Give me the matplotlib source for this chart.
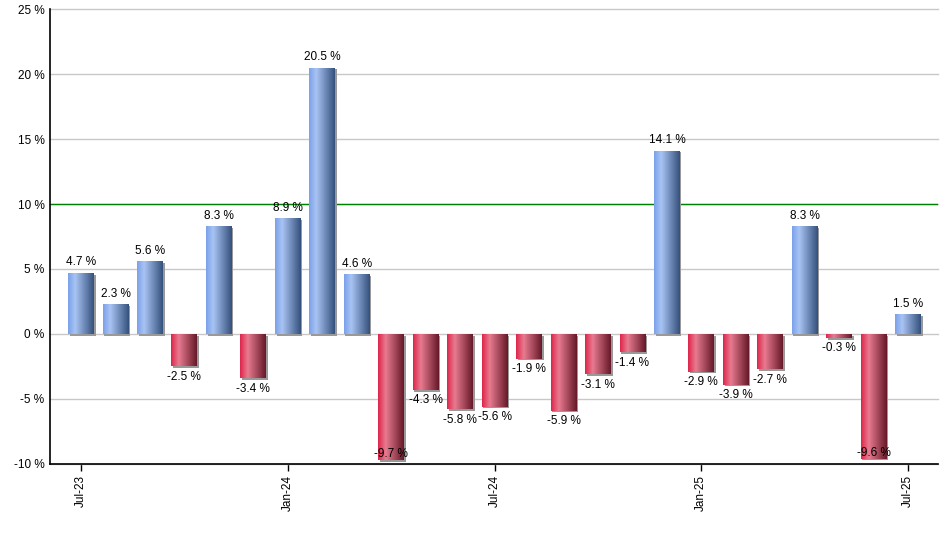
"""Monthly returns bar chart with gradient bars."""

import matplotlib

matplotlib.use("Agg")
import matplotlib.pyplot as plt
import matplotlib.patheffects as pe
import numpy as np
from matplotlib.colors import LinearSegmentedColormap

months = ["Jul-23", "Aug-23", "Sep-23", "Oct-23", "Nov-23", "Dec-23",
          "Jan-24", "Feb-24", "Mar-24", "Apr-24", "May-24", "Jun-24",
          "Jul-24", "Aug-24", "Sep-24", "Oct-24", "Nov-24", "Dec-24",
          "Jan-25", "Feb-25", "Mar-25", "Apr-25", "May-25", "Jun-25",
          "Jul-25"]
returns = [4.7, 2.3, 5.6, -2.5, 8.3, -3.4, 8.9, 20.5, 4.6, -9.7, -4.3, -5.8,
           -5.6, -1.9, -5.9, -3.1, -1.4, 14.1, -2.9, -3.9, -2.7, 8.3, -0.3,
           -9.6, 1.5]
tick_labels = ["Jul-23", "Jan-24", "Jul-24", "Jan-25", "Jul-25"]
target = 10

plt.rcParams["font.family"] = ["Liberation Sans", "DejaVu Sans"]

blue_cmap = LinearSegmentedColormap.from_list(
    "blue", [(0, "#7aa0ea"), (0.28, "#a9c4f3"), (1, "#34507c")])
red_cmap = LinearSegmentedColormap.from_list(
    "red", [(0, "#dd2449"), (0.3, "#e87b90"), (1, "#651828")])

fig = plt.figure(figsize=(9.4, 5.5), dpi=100)
ax = fig.add_axes([0.0532, 0.1564, 0.9448, 0.8272])

x = np.arange(len(months))
bars = ax.bar(x, returns, width=0.75, color="none", zorder=3,
              path_effects=[pe.SimplePatchShadow(offset=(1.2, -1.2),
                                                 shadow_rgbFace="#999999",
                                                 alpha=1.0),
                            pe.Normal()])

grad = np.linspace(0, 1, 256).reshape(1, -1)
for bar, v in zip(bars, returns):
    x0 = bar.get_x()
    w = bar.get_width()
    cmap = blue_cmap if v >= 0 else red_cmap
    im = ax.imshow(grad, cmap=cmap, aspect="auto", zorder=4,
                   extent=(x0, x0 + w, min(0, v), max(0, v)))
    im.set_clip_path(bar)

    label = f"{v:.1f} %"
    cx = x0 + w / 2
    if v >= 0:
        ax.text(cx, v + 0.35, label, ha="center", va="bottom", fontsize=8.5,
                zorder=5)
    elif v - 1.6 < -10:
        ax.text(cx, v, label, ha="center", va="bottom", fontsize=8.5,
                zorder=5)
    else:
        ax.text(cx, v - 0.35, label, ha="center", va="top", fontsize=8.5,
                zorder=5)

ax.axhline(target, color="#008000", linewidth=1, zorder=2)

ax.set_ylim(-10, 25)
ax.set_xlim(-0.9, len(months) - 1 + 0.87)
ax.set_yticks(np.arange(-10, 26, 5))
ax.set_yticklabels([f"{t} %" for t in range(-10, 26, 5)], fontsize=8.5)
ax.yaxis.grid(True, color="#c8c8c8", linewidth=1, zorder=0)
ax.tick_params(axis="y", length=0, pad=4)

tick_pos = [months.index(m) for m in tick_labels]
ax.set_xticks(tick_pos)
ax.set_xticklabels(tick_labels, rotation=90, fontsize=8.5)
ax.tick_params(axis="x", length=5, width=1, color="black", pad=3)

for side in ("top", "right"):
    ax.spines[side].set_visible(False)
ax.spines["left"].set_linewidth(1.2)
ax.spines["bottom"].set_linewidth(1.2)

# let gridlines run to the figure edge on the right
for gl in ax.get_ygridlines():
    gl.set_clip_on(False)

fig.savefig("out.png", dpi=100)
plt.close(fig)
